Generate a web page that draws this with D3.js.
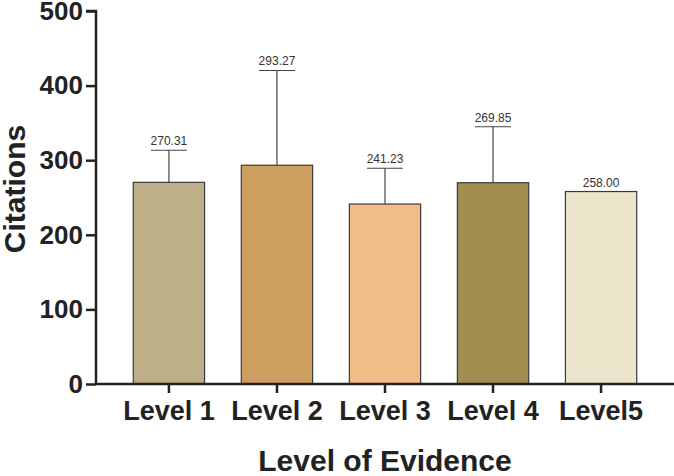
<!DOCTYPE html>
<html><head><meta charset="utf-8">
<script src="https://cdn.jsdelivr.net/npm/d3@7"></script>
<style>body{margin:0;background:#fff}svg{display:block}</style>
</head><body>
<script>
const categories = ["Level 1","Level 2","Level 3","Level 4","Level5"];
const means = [270.31, 293.27, 241.23, 269.85, 258.00];
const sdUpper = [43, 127, 48, 75, 0];
const colors = ["#BEAF89","#CC9E5F","#F0BD86","#A18D50","#EDE4CC"];
const yTicks = [0,100,200,300,400,500];

const W=674,H=476;
const svg=d3.select("body").append("svg").attr("width",W).attr("height",H);
const x0=96, x1=674, yTop=11, yBot=384;
const x=d3.scaleBand().domain(categories).range([x0,x1]).paddingInner(0.34).paddingOuter(0.345);
const y=d3.scaleLinear().domain([0,500]).range([yBot,yTop]);

const font="'Liberation Sans', Arial, Helvetica, sans-serif";

// bars
svg.selectAll("rect.bar").data(categories).join("rect")
  .attr("x",d=>x(d)).attr("y",(d,i)=>y(means[i]))
  .attr("width",x.bandwidth()).attr("height",(d,i)=>y(0)-y(means[i]))
  .attr("fill",(d,i)=>colors[i]).attr("stroke","#3a3a3a").attr("stroke-width",1.2);

// error bars
const capW=36;
categories.forEach((d,i)=>{
  const cx=x(d)+x.bandwidth()/2;
  const top=means[i]+sdUpper[i];
  if(sdUpper[i]>0){
    svg.append("line").attr("x1",cx).attr("x2",cx).attr("y1",y(means[i])).attr("y2",y(top))
      .attr("stroke","#444").attr("stroke-width",1.2);
    svg.append("line").attr("x1",cx-capW/2).attr("x2",cx+capW/2).attr("y1",y(top)).attr("y2",y(top))
      .attr("stroke","#444").attr("stroke-width",1.2);
  }
  svg.append("text").attr("x",cx).attr("y",y(top)-5).attr("text-anchor","middle")
    .attr("font-family",font).attr("font-size",12).attr("fill","#333").text(means[i].toFixed(2));
});

// y axis
const yAxis=svg.append("g").attr("transform",`translate(${x0},0)`)
  .call(d3.axisLeft(y).tickValues(yTicks).tickSize(10).tickPadding(3));
yAxis.select(".domain").attr("stroke","#222").attr("stroke-width",2.5).attr("d",`M-10,${yTop}H0V${yBot}`);
yAxis.selectAll(".tick line").attr("stroke","#222").attr("stroke-width",2.5);
yAxis.selectAll(".tick text").attr("font-family",font).attr("font-weight","bold").attr("font-size",26).attr("fill","#222");

// x axis
const xAxis=svg.append("g").attr("transform",`translate(0,${yBot})`)
  .call(d3.axisBottom(x).tickSize(9).tickPadding(8));
xAxis.select(".domain").attr("stroke","#222").attr("stroke-width",2.5).attr("d",`M${x0},0H${x1}`);
xAxis.selectAll(".tick line").attr("stroke","#222").attr("stroke-width",2.5);
xAxis.selectAll(".tick text").attr("font-family",font).attr("font-weight","bold").attr("font-size",27).attr("fill","#222");

// axis titles
svg.append("text").attr("transform",`translate(25,189) rotate(-90)`).attr("text-anchor","middle")
  .attr("font-family",font).attr("font-weight","bold").attr("font-size",30).attr("fill","#222").text("Citations");
svg.append("text").attr("x",(x0+x1)/2).attr("y",471).attr("text-anchor","middle")
  .attr("font-family",font).attr("font-weight","bold").attr("font-size",30).attr("fill","#222").text("Level of Evidence");
</script>
</body></html>
